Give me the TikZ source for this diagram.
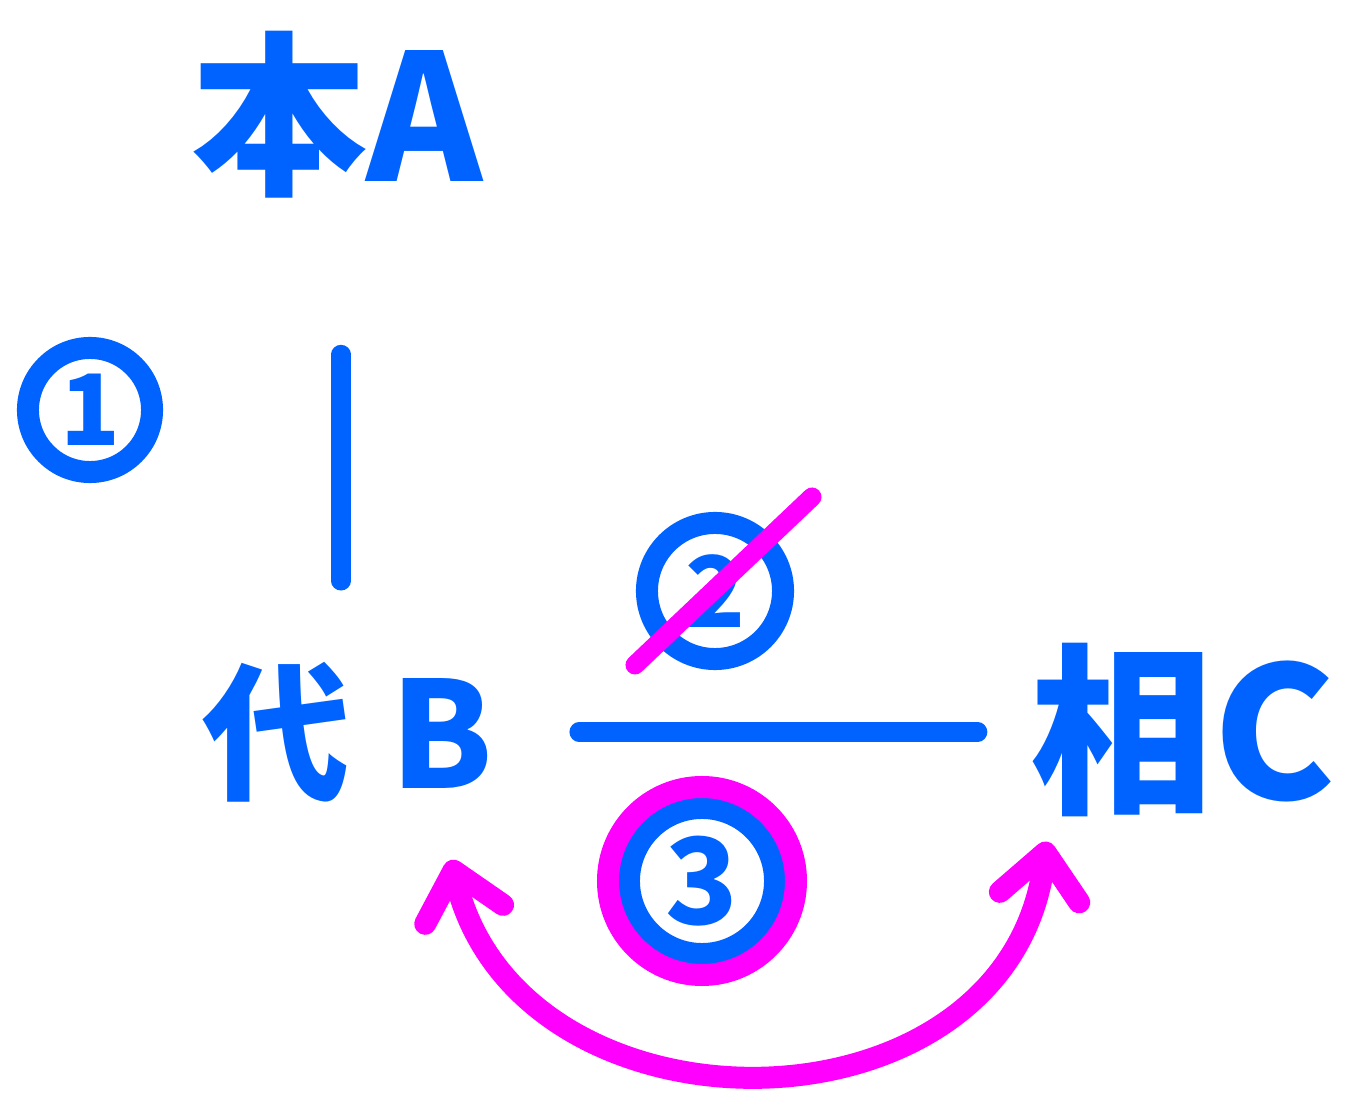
\documentclass[tikz,border=0pt]{standalone}
\usepackage{fontspec}
\newfontfamily\jpfont{Noto Sans CJK JP}
\usepackage{tikz}
\usetikzlibrary{arrows.meta}
\definecolor{penblue}{rgb}{0.0, 0.39, 1.0}
\definecolor{penpink}{rgb}{1.0, 0.0, 1.0}

\begin{document}
\begin{tikzpicture}[x=0.01cm, y=-0.01cm,
		word/.style={text=penblue, inner sep=0pt, font=\jpfont\bfseries\fontsize{50}{56}\selectfont},
		num/.style={circle, draw=penblue, line width=0.22cm, minimum size=1.24cm, inner sep=0pt, text=penblue, font=\jpfont\bfseries\fontsize{28}{30}\selectfont},
		link/.style={penblue, line width=0.19cm, line cap=round},
		strike/.style={penpink, line width=0.19cm, line cap=round},
		barb/.tip={Straight Barb[length=4.5mm, width=8mm, round]}]
			\useasboundingbox (0,0) rectangle (1347,1094);
			\node[word] (honA) at (337,115) {本A};
			\node[word, font=\jpfont\bfseries\fontsize{42}{46}\selectfont] (daiB) at (348,732) {代\kern0.4cm B};
			\node[word, font=\jpfont\bfseries\fontsize{52}{56}\selectfont] (souC) at (1183,730) {相C};
			\node[num] (one) at (90,410) {1};
			\node[num, minimum size=1.36cm] (two) at (715,591) {2};
			\node[num, minimum size=1.46cm, font=\jpfont\bfseries\fontsize{34}{36}\selectfont] (three) at (702,881) {3};
			\draw[link, shorten <=1.55cm, shorten >=0.8cm] ([shift={(4,0)}]honA.south) -- ([shift={(4,0)}]honA.south |- daiB.north);
			\draw[link, shorten <=0.85cm, shorten >=0.52cm] (daiB.east) -- (daiB.east -| souC.west);
			\draw[strike] ([shift={(-80,74)}]two.center) -- ([shift={(97,-94)}]two.center);
			\draw[strike, line width=0.22cm] (three) circle (94);
			\draw[strike, line width=0.22cm, barb-barb] ([shift={(-43,57)}]daiB.south east) .. controls +(70,288) and +(-40,303) .. ([shift={(17,24)}]souC.south west);
		\end{tikzpicture}
\end{document}
